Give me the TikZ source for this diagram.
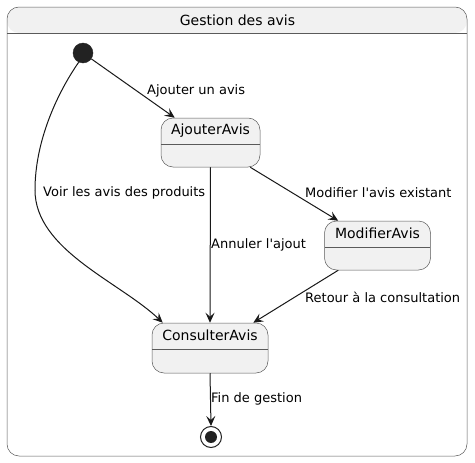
\documentclass[tikz,border=0pt]{standalone}
\usepackage{fontspec}
\setmainfont{DejaVu Sans}
\usetikzlibrary{arrows.meta}
\definecolor{stfill}{HTML}{F1F1F1}
\definecolor{stline}{HTML}{181818}
\definecolor{boxline}{HTML}{5A5A5A}
\definecolor{dotfill}{HTML}{222222}
\tikzset{
  container/.style={draw=boxline, line width=0.5pt, rounded corners=12pt, fill=white,
    minimum width=460pt, minimum height=449pt, inner sep=0pt,
    path picture={\fill[stfill] (path picture bounding box.north west) rectangle ([yshift=-26pt]path picture bounding box.north east);
      \draw[boxline, line width=0.5pt] ([yshift=-26pt]path picture bounding box.north west) -- ([yshift=-26pt]path picture bounding box.north east);}},
  stbox/.style={draw=boxline, line width=0.5pt, rounded corners=12pt, fill=stfill,
    minimum height=49pt, inner sep=0pt,
    path picture={\draw[boxline, line width=0.5pt] ([yshift=-26pt]path picture bounding box.north west) -- ([yshift=-26pt]path picture bounding box.north east);}},
  stname/.style={font=\fontsize{14}{16}\selectfont, text=black, inner sep=0pt},
  elabel/.style={font=\fontsize{13}{15}\selectfont, text=black, inner sep=0pt, anchor=west},
  conn/.style={draw=stline, line width=1pt, -{Stealth[length=10pt,width=9pt,inset=4pt]}},
  initdot/.style={circle, fill=dotfill, draw=dotfill, minimum size=20pt, inner sep=0pt},
}
\begin{document}
\begin{tikzpicture}[x=1pt,y=-1pt]
\useasboundingbox (0,0) rectangle (475,463);
% container
\node[container] (box) at (237,231.5) {};
\node[stname] (title) at (237.5,20) {Gestion des avis};
% states
\node[stbox, minimum width=99pt] (aj) at (210.5,142.5) {};
\node[stname] (ajt) at ([yshift=-13pt]aj.north) {AjouterAvis};
\node[stbox, minimum width=106pt] (mod) at (377.5,245.5) {};
\node[stname] (modt) at ([yshift=-13pt]mod.north) {ModifierAvis};
\node[stbox, minimum width=116pt, minimum height=50pt] (cons) at (210,348) {};
\node[stname] (const) at ([yshift=-13pt]cons.north) {ConsulterAvis};
% initial / final
\node[initdot] (init) at (83,53) {};
\node[circle, draw=dotfill, line width=1pt, fill=white, minimum size=21pt, inner sep=0pt] (fin) at (211,437) {};
\node[circle, fill=dotfill, minimum size=12pt, inner sep=0pt] (finin) at (fin.center) {};
% connectors
\draw[conn] (init) -- ([xshift=14pt]aj.north west);
\node[elabel] (l1) at (147,91) {Ajouter un avis};
\draw[conn] (init.-115) .. controls (58,92) and (35,140) .. (35,190)
  .. controls (35,250) and (120,282) .. ([xshift=11pt]cons.north west);
\node[elabel] (l2) at (43,193) {Voir les avis des produits};
\draw[conn] (aj.south) -- (cons.north);
\node[elabel] (l3) at (211,245) {Annuler l\textquotesingle ajout};
\draw[conn] ([xshift=-10pt]aj.south east) -- ([xshift=14pt]mod.north west);
\node[elabel] (l4) at (305,193) {Modifier l\textquotesingle avis existant};
\draw[conn] ([xshift=14pt]mod.south west) -- ([xshift=-15pt]cons.north east);
\node[elabel] (l5) at (305,297) {Retour à la consultation};
\draw[conn] (cons.south) -- (fin.north);
\node[elabel] (l6) at (211,399) {Fin de gestion};
\end{tikzpicture}
\end{document}
